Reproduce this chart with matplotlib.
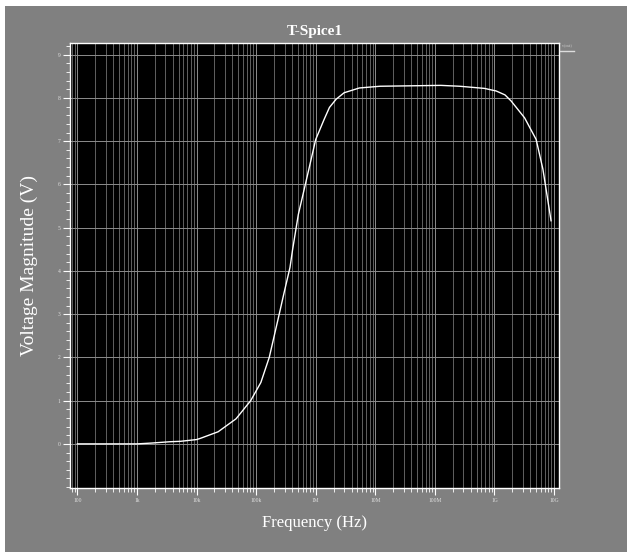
"""T-Spice AC sweep: output voltage magnitude vs frequency (band-pass response)."""

import matplotlib as mpl
import matplotlib.pyplot as plt
from matplotlib.patches import Rectangle
from matplotlib.ticker import LogLocator, MultipleLocator, FixedLocator

mpl.rcParams.update({"font.family": ["Liberation Serif", "DejaVu Serif"]})

# values
freq_hz = [1e2, 3e2, 1e3, 1.8e3, 3.6e3, 5.4e3, 1e4, 1.17e4, 2.3e4, 4.6e4, 8.1e4,
           1.2e5, 1.66e5, 2.34e5, 2.95e5, 3.7e5, 4.1e5, 5.1e5, 6.8e5, 1e6, 1.38e6,
           1.7e6, 2.2e6, 3e6, 5.4e6, 1.2e7, 1.26e8, 2.6e8, 6.8e8, 1.07e9, 1.5e9,
           1.9e9, 3.2e9, 5e9, 6.5e9, 7.8e9, 8.9e9]
vmag = [0.0, 0.0, 0.0, 0.02, 0.05, 0.06, 0.1, 0.13, 0.28, 0.58, 1.0,
        1.42, 2.0, 2.89, 3.5, 4.08, 4.5, 5.3, 6.04, 7.04, 7.5,
        7.78, 7.97, 8.12, 8.23, 8.27, 8.29, 8.27, 8.22, 8.16, 8.07,
        7.93, 7.54, 7.04, 6.35, 5.66, 5.16]

x_ticks = [1e2, 1e3, 1e4, 1e5, 1e6, 1e7, 1e8, 1e9, 1e10]
x_ticklabels = ["100", "1k", "10k", "100k", "1M", "10M", "100M", "1G", "10G"]
y_ticks = list(range(10))

BG = "#808080"
W, H = 632, 552

fig = plt.figure(figsize=(W / 100, H / 100), dpi=100, facecolor="white")
fig.patches.append(Rectangle((5 / W, 0), 622 / W, 546 / H, transform=fig.transFigure,
                             facecolor=BG, edgecolor="none", zorder=-10))

ax = fig.add_axes([70 / W, 1 - 488 / H, 489 / W, 445 / H])
ax.set_facecolor("black")
ax.plot(freq_hz, vmag, color="white", lw=1.0)

ax.set_xscale("log")
ax.set_xlim(75.2, 1.21e10)
ax.set_ylim(-1.02, 9.27)

ax.xaxis.set_major_locator(FixedLocator(x_ticks))
ax.set_xticklabels(x_ticklabels)
ax.xaxis.set_minor_locator(LogLocator(base=10, subs=range(2, 10), numticks=20))
ax.yaxis.set_major_locator(FixedLocator(y_ticks))
ax.yaxis.set_minor_locator(MultipleLocator(0.2))

ax.grid(True, which="major", axis="both", color="#8c8c8c", lw=0.7)
ax.grid(True, which="minor", axis="x", color="#707070", lw=0.6)
ax.set_axisbelow(True)

for s in ax.spines.values():
    s.set_color("white")
    s.set_linewidth(1.0)
ax.tick_params(which="major", colors="white", length=5, width=0.8,
               labelsize=4, labelcolor="#e0e0e0", pad=2)
ax.tick_params(which="minor", colors="white", length=3, width=0.6)

ax.set_title("T-Spice1", color="white", fontsize=11, fontweight="bold", pad=6)
ax.set_xlabel("Frequency (Hz)", color="white", fontsize=12)
ax.set_ylabel("Voltage Magnitude (V)", color="white", fontsize=14)
ax.xaxis.set_label_coords(0.5, -0.061)
ax.yaxis.set_label_coords(-0.066, 0.5)

# tiny legend entry at top right
fig.text(562 / W, 1 - 47 / H, "v(out)", color="#cccccc", fontsize=3)
fig.lines.append(mpl.lines.Line2D([560 / W, 574 / W], [1 - 51 / H, 1 - 51 / H],
                                  transform=fig.transFigure, color="#dddddd", lw=1))

fig.savefig("out.png", dpi=100, facecolor=fig.get_facecolor())
